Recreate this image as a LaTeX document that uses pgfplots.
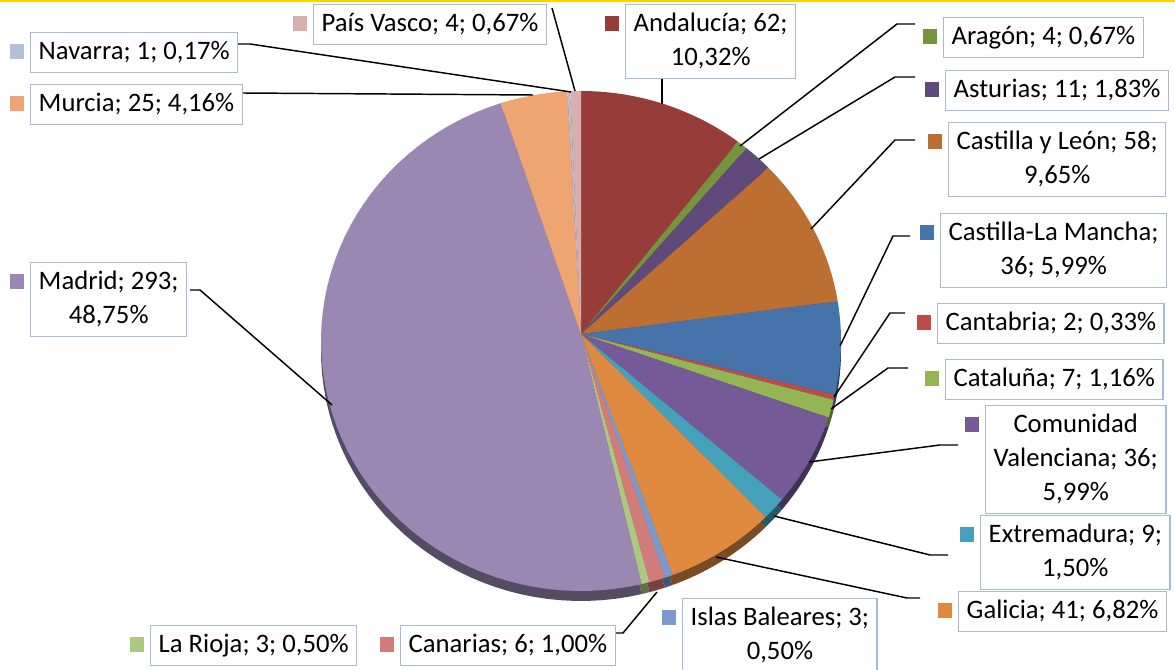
\documentclass[border=0pt]{standalone}
\usepackage{pgfplots}
\pgfplotsset{compat=1.18}
\usepackage{fontspec}
\setmainfont{Carlito}
\usetikzlibrary{calc}

\definecolor{cAnd}{HTML}{963D3A}
\definecolor{cAra}{HTML}{77933C}
\definecolor{cAst}{HTML}{5F4A7B}
\definecolor{cCyL}{HTML}{BD6F31}
\definecolor{cCLM}{HTML}{4673AA}
\definecolor{cCant}{HTML}{BE4B48}
\definecolor{cCat}{HTML}{94B553}
\definecolor{cCV}{HTML}{765A97}
\definecolor{cExt}{HTML}{44A1B9}
\definecolor{cGal}{HTML}{E08A3F}
\definecolor{cIB}{HTML}{7B9ACB}
\definecolor{cCan}{HTML}{D27C79}
\definecolor{cRio}{HTML}{ADC981}
\definecolor{cMad}{HTML}{9B88B2}
\definecolor{cMur}{HTML}{EFA572}
\definecolor{cNav}{HTML}{B3C0DA}
\definecolor{cPV}{HTML}{D9AFAE}
\definecolor{boxc}{HTML}{A6BBD8}
\definecolor{topline}{HTML}{FFD200}

% slice from cumulative count #1 to #2 (total 601), clockwise from top
\newcommand{\slice}[3]{%
  \addplot[fill=#3, draw=none, domain={#1*0.5990017}:{#2*0.5990017}, samples=60, variable=\t]
    ({581+260*sin(\t)},{341-250*cos(\t)}) -- (axis cs:581,334) -- cycle;}
\newcommand{\rim}[3]{%
  \addplot[fill=#3!55!black, draw=none, domain={#1*0.5990017}:{#2*0.5990017}, samples=60, variable=\t]
    ({581+260*sin(\t)},{351-250*cos(\t)}) -- (axis cs:581,344) -- cycle;}

\newcommand{\s}{\rule[-5pt]{0pt}{20pt}}
\newcommand{\lab}[5]{%
  \node[box, anchor=north west] (#1) at (axis cs:#2,#3) {#5};
  \node[fill=#4, inner sep=0pt, minimum size=11pt, anchor=east] at ([xshift=-4pt,yshift=-14.8pt]#1.north west) {};}

\begin{document}
\begin{tikzpicture}[
  box/.style={draw=boxc, line width=1.1pt, fill=white, inner xsep=6pt, inner ysep=5pt,
    align=center, font=\fontsize{20}{25.5}\selectfont},
  lead/.style={black, line width=1.1pt}]
\begin{axis}[hide axis, scale only axis, width=881.25pt, height=502.5pt,
  xmin=0, xmax=1175, ymin=0, ymax=670, y dir=reverse, clip=true]

% 3D rim (darker, shifted down)
\rim{0}{62}{cAnd}
\rim{62}{66}{cAra}
\rim{66}{77}{cAst}
\rim{77}{135}{cCyL}
\rim{135}{171}{cCLM}
\rim{171}{173}{cCant}
\rim{173}{180}{cCat}
\rim{180}{216}{cCV}
\rim{216}{225}{cExt}
\rim{225}{266}{cGal}
\rim{266}{269}{cIB}
\rim{269}{275}{cCan}
\rim{275}{278}{cRio}
\rim{278}{571}{cMad}
\rim{571}{596}{cMur}
\rim{596}{597}{cNav}
\rim{597}{601}{cPV}

% faces: Andalucia 62, Aragon 4, Asturias 11, Castilla y Leon 58, Castilla-La Mancha 36,
% Cantabria 2, Cataluna 7, C. Valenciana 36, Extremadura 9, Galicia 41, Islas Baleares 3,
% Canarias 6, La Rioja 3, Madrid 293, Murcia 25, Navarra 1, Pais Vasco 4
\slice{0}{62}{cAnd}
\slice{62}{66}{cAra}
\slice{66}{77}{cAst}
\slice{77}{135}{cCyL}
\slice{135}{171}{cCLM}
\slice{171}{173}{cCant}
\slice{173}{180}{cCat}
\slice{180}{216}{cCV}
\slice{216}{225}{cExt}
\slice{225}{266}{cGal}
\slice{266}{269}{cIB}
\slice{269}{275}{cCan}
\slice{275}{278}{cRio}
\slice{278}{571}{cMad}
\slice{571}{596}{cMur}
\slice{596}{597}{cNav}
\slice{597}{601}{cPV}

% top yellow line
\draw[topline, line width=1.6pt] (axis cs:0,1) -- (axis cs:1175,1);

% leader lines
\draw[lead] (axis cs:552,8) -- (axis cs:575,91);
\draw[lead] (axis cs:238,44) -- (axis cs:250,44) -- (axis cs:571,92);
\draw[lead] (axis cs:243,93) -- (axis cs:533,95);
\draw[lead] (axis cs:190,290) -- (axis cs:200,290) -- (axis cs:332,405);
\draw[lead] (axis cs:662,76) -- (axis cs:662,104);
\draw[lead] (axis cs:740,146) -- (axis cs:897,24) -- (axis cs:915,24);
\draw[lead] (axis cs:759,159) -- (axis cs:895,77) -- (axis cs:915,77);
\draw[lead] (axis cs:811,229) -- (axis cs:895,140) -- (axis cs:915,140);
\draw[lead] (axis cs:840,346) -- (axis cs:893,236) -- (axis cs:910,236);
\draw[lead] (axis cs:834,397) -- (axis cs:890,313) -- (axis cs:905,313);
\draw[lead] (axis cs:831,409) -- (axis cs:888,368) -- (axis cs:908,368);
\draw[lead] (axis cs:809,462) -- (axis cs:940,445) -- (axis cs:958,445);
\draw[lead] (axis cs:774,516) -- (axis cs:930,555) -- (axis cs:948,555);
\draw[lead] (axis cs:716,557) -- (axis cs:907,598) -- (axis cs:920,598);
\draw[lead] (axis cs:613,633) -- (axis cs:623,633) -- (axis cs:657,592);

% labels
\lab{PV}{313}{4}{cPV}{\s País Vasco; 4; 0,67\%}
\lab{Nav}{30}{32}{cNav}{\s Navarra; 1; 0,17\%}
\lab{Mur}{30}{84}{cMur}{\s Murcia; 25; 4,16\%}
\lab{Mad}{30}{262}{cMad}{\s Madrid; 293;\\\s 48,75\%}
\lab{And}{625}{4}{cAnd}{\s Andalucía; 62;\\\s 10,32\%}
\lab{Ara}{943}{17}{cAra}{\s Aragón; 4; 0,67\%}
\lab{Ast}{945}{70}{cAst}{\s Asturias; 11; 1,83\%}
\lab{CyL}{948}{122}{cCyL}{\s Castilla y León; 58;\\\s 9,65\%}
\lab{CLM}{940}{213}{cCLM}{\s Castilla-La Mancha;\\\s 36; 5,99\%}
\lab{Cant}{937}{303}{cCant}{\s Cantabria; 2; 0,33\%}
\lab{Cat}{945}{359}{cCat}{\s Cataluña; 7; 1,16\%}
\lab{CV}{985}{405}{cCV}{\s Comunidad\\\s Valenciana; 36;\\\s 5,99\%}
\lab{Ext}{980}{515}{cExt}{\s Extremadura; 9;\\\s 1,50\%}
\lab{Gal}{958}{591}{cGal}{\s Galicia; 41; 6,82\%}
\lab{IB}{682}{598}{cIB}{\s Islas Baleares; 3;\\\s 0,50\%}
\lab{Can}{400}{625}{cCan}{\s Canarias; 6; 1,00\%}
\lab{Rio}{150}{625}{cRio}{\s La Rioja; 3; 0,50\%}
\end{axis}
\pgfresetboundingbox
\path[use as bounding box] (current axis.south west) rectangle (current axis.north east);
\end{tikzpicture}
\end{document}
